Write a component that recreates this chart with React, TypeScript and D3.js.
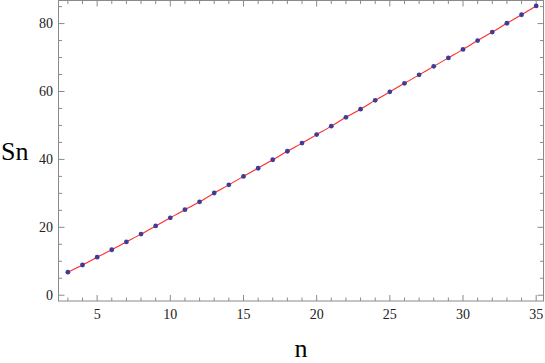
import React, { useEffect, useRef } from 'react';
import * as d3 from 'd3';

// values
const nValues = [3, 4, 5, 6, 7, 8, 9, 10, 11, 12, 13, 14, 15, 16, 17, 18, 19, 20, 21, 22, 23, 24, 25, 26, 27, 28, 29, 30, 31, 32, 33, 34, 35];
const snValues = [6.8, 8.9, 11.2, 13.4, 15.7, 18.0, 20.4, 22.8, 25.2, 27.5, 30.1, 32.5, 35.0, 37.4, 39.9, 42.4, 44.8, 47.3, 49.8, 52.4, 54.8, 57.4, 59.9, 62.4, 64.9, 67.4, 69.9, 72.4, 75.0, 77.5, 80.1, 82.6, 85.2];
const xMajorTicks = [5, 10, 15, 20, 25, 30, 35];
const yMajorTicks = [0, 20, 40, 60, 80];

const width = 545;
const height = 363;

const App: React.FC = () => {
  const svgRef = useRef<SVGSVGElement>(null);

  useEffect(() => {
    if (!svgRef.current) return;
    const svg = d3.select(svgRef.current);
    svg.selectAll('*').remove();

    const left = 58.5, right = 543.5, top = 0.5, bottom = 301;
    const x = d3.scaleLinear().domain([2.36, 35.5]).range([left, right]);
    const y = d3.scaleLinear().domain([-1.7, 86.8]).range([bottom, top]);

    const frameColor = '#8a8a8a';
    const font = "'Liberation Serif', 'DejaVu Serif', serif";

    // frame
    svg.append('rect')
      .attr('x', left).attr('y', top)
      .attr('width', right - left).attr('height', bottom - top)
      .attr('fill', 'none').attr('stroke', frameColor).attr('stroke-width', 1);

    // x ticks (bottom and top)
    const xMinor = d3.range(3, 36).filter(v => v % 5 !== 0);
    const xt = svg.append('g').attr('stroke', frameColor).attr('stroke-width', 1);
    xMinor.forEach(v => {
      xt.append('line').attr('x1', x(v)).attr('x2', x(v)).attr('y1', bottom).attr('y2', bottom - 3.5);
      xt.append('line').attr('x1', x(v)).attr('x2', x(v)).attr('y1', top).attr('y2', top + 3.5);
    });
    xMajorTicks.forEach(v => {
      xt.append('line').attr('x1', x(v)).attr('x2', x(v)).attr('y1', bottom).attr('y2', bottom - 6);
      xt.append('line').attr('x1', x(v)).attr('x2', x(v)).attr('y1', top).attr('y2', top + 6);
    });
    svg.append('g').selectAll('text')
      .data(xMajorTicks)
      .join('text')
      .attr('x', d => x(d))
      .attr('y', 319)
      .attr('text-anchor', 'middle')
      .style('font-family', font)
      .style('font-size', '14px')
      .attr('fill', '#222')
      .text(d => d);

    // y ticks (left and right)
    const yMinor = d3.range(0, 90, 5).filter(v => v % 20 !== 0);
    const yt = svg.append('g').attr('stroke', frameColor).attr('stroke-width', 1);
    yMinor.forEach(v => {
      yt.append('line').attr('y1', y(v)).attr('y2', y(v)).attr('x1', left).attr('x2', left + 3.5);
      yt.append('line').attr('y1', y(v)).attr('y2', y(v)).attr('x1', right).attr('x2', right - 3.5);
    });
    yMajorTicks.forEach(v => {
      yt.append('line').attr('y1', y(v)).attr('y2', y(v)).attr('x1', left).attr('x2', left + 6);
      yt.append('line').attr('y1', y(v)).attr('y2', y(v)).attr('x1', right).attr('x2', right - 6);
    });
    svg.append('g').selectAll('text')
      .data(yMajorTicks)
      .join('text')
      .attr('x', 53)
      .attr('y', d => y(d))
      .attr('dy', '0.33em')
      .attr('text-anchor', 'end')
      .style('font-family', font)
      .style('font-size', '14px')
      .attr('fill', '#222')
      .text(d => d);

    const pts = nValues.map((n, i) => ({ n, s: snValues[i] }));

    // red curve
    const line = d3.line<{ n: number; s: number }>()
      .x(d => x(d.n))
      .y(d => y(d.s))
      .curve(d3.curveMonotoneX);
    svg.append('path')
      .datum(pts)
      .attr('d', line)
      .attr('fill', 'none')
      .attr('stroke', '#ff2a2a')
      .attr('stroke-width', 1.1);

    // points
    svg.append('g').selectAll('circle')
      .data(pts)
      .join('circle')
      .attr('cx', d => x(d.n))
      .attr('cy', d => y(d.s))
      .attr('r', 2.4)
      .attr('fill', '#3d3d99');

    // axis labels
    svg.append('text')
      .attr('x', 1)
      .attr('y', 160)
      .style('font-family', font)
      .style('font-size', '26px')
      .attr('fill', '#000')
      .text('Sn');

    svg.append('text')
      .attr('x', 301)
      .attr('y', 357)
      .attr('text-anchor', 'middle')
      .style('font-family', font)
      .style('font-size', '26px')
      .attr('fill', '#000')
      .text('n');
  }, []);

  return (
    <svg
      ref={svgRef}
      width={width}
      height={height}
      style={{ position: 'absolute', left: 0, top: 0, background: '#fff' }}
    />
  );
};

export default App;
